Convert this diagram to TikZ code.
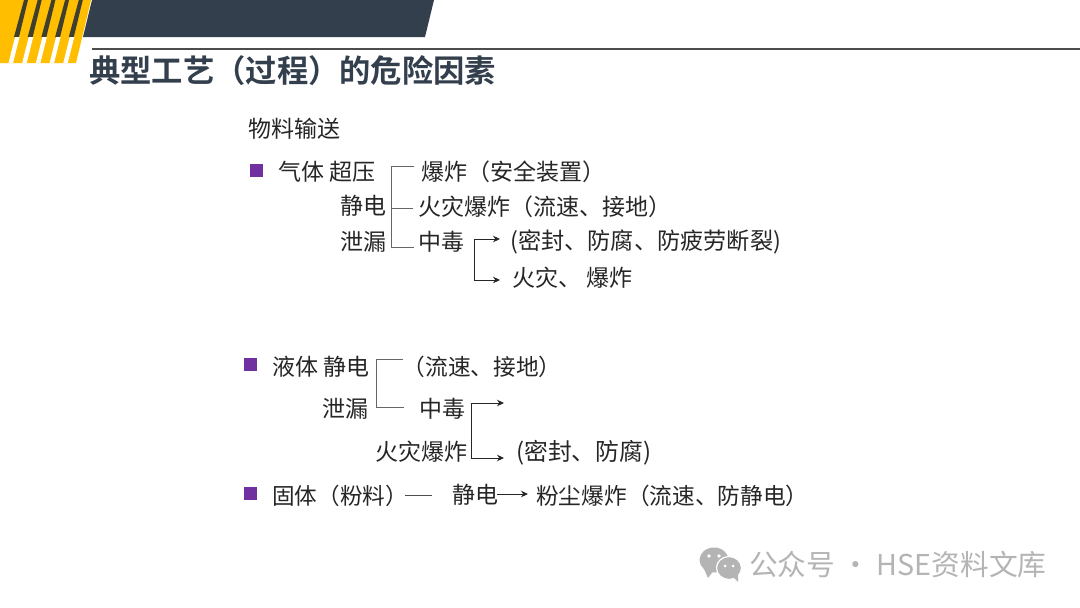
\documentclass[tikz,border=0pt]{standalone}
\usepackage{fontspec}
\setmainfont{Noto Sans CJK SC}
\newfontfamily\boldcjk{Noto Sans CJK SC Bold}
\usetikzlibrary{arrows.meta}
\definecolor{navy}{HTML}{333F4D}
\definecolor{amber}{HTML}{FFBE00}
\definecolor{stripecol}{HTML}{3F3F2E}
\definecolor{purp}{HTML}{7030A0}
\definecolor{ink}{HTML}{262626}
\definecolor{wmgray}{HTML}{B4B4B4}
\tikzset{
  x=1pt,y=-1pt,
  txt/.style={anchor=west,inner sep=0pt,text=ink,yshift=-0.8pt,font=\fontsize{23}{23}\selectfont},
  bulletbox/.style={fill=purp,draw=none,minimum size=13pt,inner sep=0pt},
  bracketline/.style={draw=black!60,line width=1pt},
  arrowline/.style={draw=black!85,line width=0.9pt,-{Stealth[length=7pt,width=6.5pt]}},
  plainline/.style={draw=black!70,line width=0.8pt},
}
\begin{document}
\begin{tikzpicture}
\useasboundingbox (0,0) rectangle (1080,608);
\fill[white] (0,0) rectangle (1080,608);
% header
\fill[amber] (0,0) -- (91,0) -- (76,63) -- (0,63) -- cycle;
\fill[navy] (92,0) -- (434,0) -- (425,37) -- (83,37) -- cycle;
\foreach \i in {0,1,2,3,4}{
  \fill[stripecol] ({24+13.7*\i},0) -- ({28+13.7*\i},0) -- ({19+13.7*\i},37) -- ({14+13.7*\i},37) -- cycle;
  \fill[white] ({15+13.7*\i},37) -- ({19.5+13.7*\i},37) -- ({13+13.7*\i},63) -- ({8.5+13.7*\i},63) -- cycle;
}
\fill[black!70] (92,48) rectangle (1080,50);
\node[anchor=west,inner sep=0pt,text=navy,font=\boldcjk\fontsize{31.3}{31.3}\selectfont] (title) at (89,71) {典型工艺（过程）的危险因素};
% heading
\node[txt] (head) at (248,128) {物料输送};
% gas
\node[bulletbox] (b1) at (256.5,170.5) {};
\node[txt] (gas) at (278,171) {气体 超压};
\node[txt] (g2) at (340,205) {静电};
\node[txt] (g3) at (340,241) {泄漏};
\node[txt] (r1) at (421,171) {爆炸（安全装置）};
\node[txt] (r2) at (418,206) {火灾爆炸（流速、接地）};
\node[txt] (r3) at (418,241) {中毒};
\node[txt,font=\fontsize{23.2}{23}\selectfont] (r4) at (510,241) {(密封、防腐、防疲劳断裂)};
\node[txt] (r5) at (512,277) {火灾、 爆炸};
\coordinate (gt) at (391,166);
\coordinate (gm) at (391,208);
\coordinate (gb) at (391,247);
\coordinate (gte) at (414,166);
\coordinate (gme) at (413,208);
\coordinate (gbe) at (414,247);
\draw[bracketline] (gte) -- (gt) -- (gb) -- (gbe);
\draw[bracketline] (gm) -- (gme);
\coordinate (ga) at (474,239);
\coordinate (gc) at (474,280);
\coordinate (gae) at (500,239);
\coordinate (gce) at (500,280);
\draw[arrowline] (ga) -- (gae);
\draw[arrowline] (ga) -- (gc) -- (gce);
% liquid
\node[bulletbox] (b2) at (250.5,364.5) {};
\node[txt] (liq) at (272,366) {液体 静电};
\node[txt,font=\fontsize{22.7}{23}\selectfont] (l1) at (402.5,366) {（流速、接地）};
\node[txt] (l2) at (322,408) {泄漏};
\node[txt] (l3) at (419,408) {中毒};
\node[txt] (l4) at (375,451) {火灾爆炸};
\node[txt,font=\fontsize{23.8}{23}\selectfont] (l5) at (516,452) {(密封、防腐)};
\coordinate (lt) at (376,359);
\coordinate (lb) at (376,407);
\coordinate (lte) at (403,359);
\coordinate (lbe) at (404,407);
\draw[bracketline] (lte) -- (lt) -- (lb) -- (lbe);
\coordinate (la) at (471,403);
\coordinate (lc) at (471,458);
\coordinate (lae) at (504,403);
\coordinate (lce) at (504,458);
\draw[arrowline] (la) -- (lae);
\draw[arrowline] (la) -- (lc) -- (lce);
% solid
\node[bulletbox] (b3) at (250.5,493.5) {};
\node[txt,font=\fontsize{22.6}{23}\selectfont] (sol) at (272,495) {固体（粉料）};
\node[txt] (s2) at (452,494) {静电};
\node[txt,font=\fontsize{22.7}{23}\selectfont] (s3) at (536,495) {粉尘爆炸（流速、防静电）};
\coordinate (sa) at (405,495);
\coordinate (sb) at (432,495);
\coordinate (sc) at (497,494);
\coordinate (sd) at (528,494);
\draw[plainline] (sa) -- (sb);
\draw[arrowline] (sc) -- (sd);
% watermark
\fill[wmgray] (714,560) ellipse [x radius=14.5, y radius=12.5];
\fill[wmgray] (704,569) -- (708,578) -- (714,570) -- cycle;
\fill[wmgray,draw=white,line width=1.2pt] (729,568) ellipse [x radius=12.5, y radius=11.5];
\fill[wmgray] (733,577) -- (738,582) -- (738,574) -- cycle;
\fill[white] (709,556) circle (1.8) (719,556) circle (1.8) (725,566) circle (1.5) (733,566) circle (1.5);
\node[anchor=west,inner sep=0pt,text=wmgray,font=\fontsize{28.7}{29}\selectfont] (wm) at (749,565) {公众号 · HSE资料文库};
\end{tikzpicture}
\end{document}
